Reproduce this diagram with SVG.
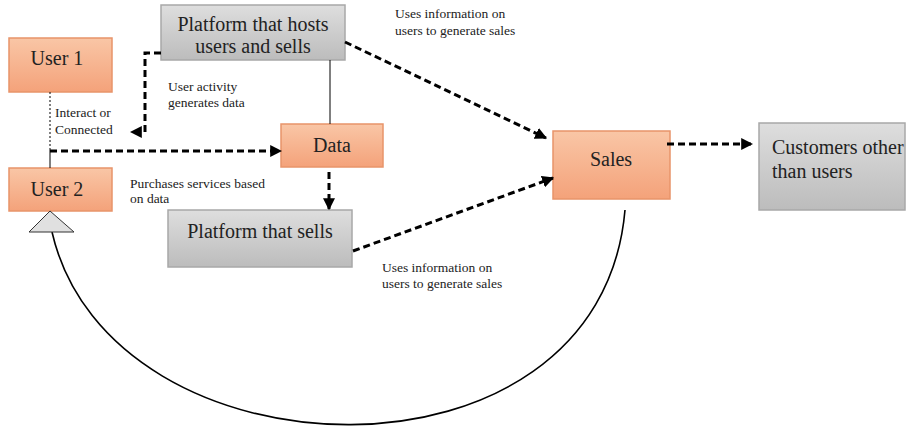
<svg xmlns="http://www.w3.org/2000/svg" width="906" height="430" viewBox="0 0 906 430">
<defs>
<linearGradient id="og" x1="0" y1="0" x2="0" y2="1"><stop offset="0" stop-color="#f9c6a6"/><stop offset="1" stop-color="#f4a27a"/></linearGradient>
<linearGradient id="gg" x1="0" y1="0" x2="0" y2="1"><stop offset="0" stop-color="#dedede"/><stop offset="1" stop-color="#bcbcbc"/></linearGradient>
<marker id="ah" viewBox="0 0 10 10" refX="9" refY="5" markerWidth="4" markerHeight="4" orient="auto" markerUnits="strokeWidth"><path d="M0,0 L10,5 L0,10 z" fill="#000"/></marker>
</defs>
<style>
.o{fill:url(#og);stroke:#e8946a;stroke-width:1.5}
.g{fill:url(#gg);stroke:#a8a8a8;stroke-width:1.5}
.big{font-family:"Liberation Serif",serif;font-size:20px;fill:#222}
.sm{font-family:"Liberation Serif",serif;font-size:13.5px;fill:#222}
.dash{fill:none;stroke:#000;stroke-width:3;stroke-dasharray:7 4;marker-end:url(#ah)}
.thin{fill:none;stroke:#000;stroke-width:1}
</style>
<rect width="906" height="430" fill="#fff"/>
<g id="user1"><rect class="o" x="9" y="38" width="103" height="54"/><text class="big" x="57" y="65" text-anchor="middle">User 1</text></g>
<g id="user2"><rect class="o" x="9" y="168" width="103" height="43"/><text class="big" x="57" y="196" text-anchor="middle">User 2</text></g>
<g id="platform-hosts"><rect class="g" x="161" y="5" width="184" height="55"/><text class="big" x="253" y="31" text-anchor="middle">Platform that hosts</text><text class="big" x="253" y="53" text-anchor="middle">users and sells</text></g>
<g id="data"><rect class="o" x="281" y="124" width="102" height="43"/><text class="big" x="332" y="152" text-anchor="middle">Data</text></g>
<g id="platform-sells"><rect class="g" x="168" y="210" width="184" height="57"/><text class="big" x="260" y="238" text-anchor="middle">Platform that sells</text></g>
<g id="sales"><rect class="o" x="553" y="131" width="117" height="68"/><text class="big" x="611" y="166" text-anchor="middle">Sales</text></g>
<g id="customers"><rect class="g" x="759" y="123" width="146" height="87"/><text class="big" x="772" y="154">Customers other</text><text class="big" x="772" y="178">than users</text></g>
<g id="connectors">
<path class="thin" d="M50,92 V150" stroke-dasharray="2 2"/>
<path class="thin" d="M50,150 V168"/>
<path class="dash" d="M50,151 H281"/>
<path class="dash" d="M161,53 H145 V132 H131"/>
<path class="thin" d="M330,60 V124"/>
<path class="dash" d="M329,172 V209"/>
<path class="dash" d="M345,42 L546,138"/>
<path class="dash" d="M353,251 L553,178"/>
<path class="dash" d="M667,144 H752"/>
<path fill="none" stroke="#000" stroke-width="1.6" d="M52,232 C110,485 600,500 625,210"/>
<polygon points="50,211 29,232 74,232" fill="#e0e0e0" stroke="#333" stroke-width="1"/>
</g>
<g id="labels">
<text class="sm" x="395" y="18">Uses information on</text>
<text class="sm" x="395" y="35">users to generate sales</text>
<text class="sm" x="168" y="91">User activity</text>
<text class="sm" x="168" y="107">generates data</text>
<text class="sm" x="55" y="117">Interact or</text>
<text class="sm" x="55" y="134">Connected</text>
<text class="sm" x="130" y="188">Purchases services based</text>
<text class="sm" x="130" y="203">on data</text>
<text class="sm" x="382" y="272">Uses information on</text>
<text class="sm" x="382" y="288">users to generate sales</text>
</g>
</svg>
